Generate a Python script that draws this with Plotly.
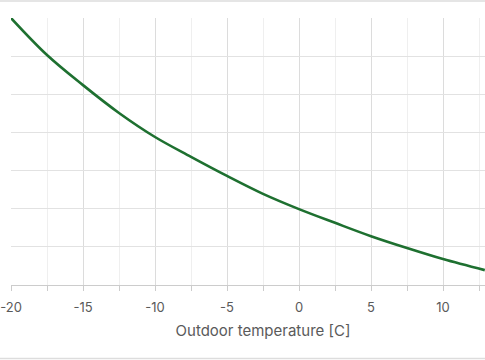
import plotly.graph_objects as go

temps = [-20, -17.5, -15, -12.5, -10, -7.5, -5, -2.5, 0, 2.5, 5, 7.5, 10, 12.9]
values = [7.0, 6.03, 5.24, 4.51, 3.88, 3.36, 2.86, 2.39, 1.99, 1.63, 1.28, 0.97, 0.68, 0.39]
tick_vals = [-20, -15, -10, -5, 0, 5, 10, 15]
tick_text = ["-20", "-15", "-10", "-5", "0", "5", "10", "15"]

fig = go.Figure()
fig.add_trace(go.Scatter(x=temps, y=values, mode="lines",
                         line=dict(color="#1e7030", width=2.6, shape="spline", smoothing=1.0),
                         hoverinfo="skip", showlegend=False))

fig.update_layout(
    width=515, height=360,
    margin=dict(l=11, r=0, t=18, b=75),
    paper_bgcolor="white", plot_bgcolor="white",
    font=dict(family="Inter, Roboto, sans-serif", color="#555555", size=13),
    xaxis=dict(range=[-20, 15], tickvals=tick_vals, ticktext=tick_text,
               showgrid=True, gridcolor="#dcdcdc", gridwidth=1,
               ticks="outside", ticklen=5, tickcolor="#cccccc",
               showline=True, linecolor="#cccccc", linewidth=1,
               zeroline=False, ticklabelstandoff=5,
               minor=dict(dtick=2.5, tick0=-20, showgrid=True, gridcolor="#efefef",
                          ticks="outside", ticklen=5, tickcolor="#cccccc"),
               title=dict(text="Outdoor temperature [C]", font=dict(size=15, color="#5a5a5a"), standoff=11),
               tickfont=dict(size=13, color="#5a5a5a")),
    yaxis=dict(range=[0, 7], dtick=1, showticklabels=False, showgrid=True,
               gridcolor="#e2e2e2", zeroline=False, showline=False),
    shapes=[
        dict(type="line", xref="paper", yref="paper", x0=-0.03, x1=1.0,
             y0=1.0637, y1=1.0637, line=dict(color="#dddddd", width=1.5)),
        dict(type="line", xref="paper", yref="paper", x0=-0.03, x1=1.0,
             y0=-0.2753, y1=-0.2753, line=dict(color="#dddddd", width=1.5)),
    ],
)

fig.write_html("out.html", config={"displayModeBar": False},
               post_script="document.body.style.margin='0';document.body.style.overflow='hidden';")
